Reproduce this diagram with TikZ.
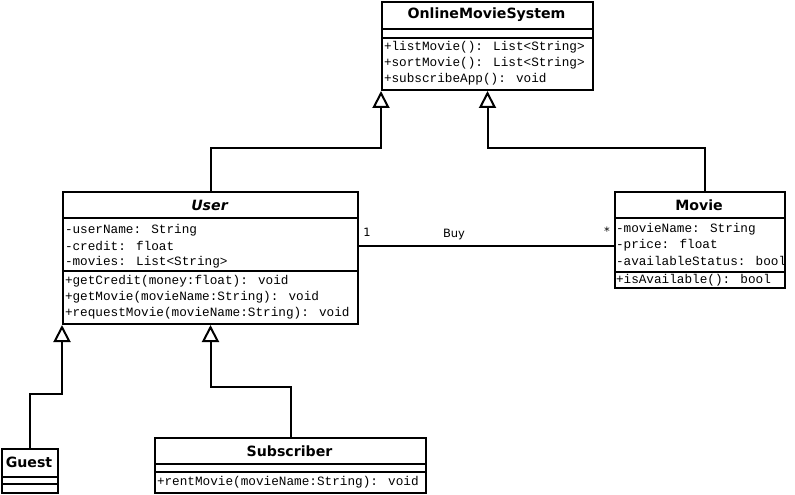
\documentclass[tikz,border=0pt]{standalone}
\usepackage{fontspec}
\setmainfont{DejaVu Sans}
\newfontfamily\monof{Liberation Mono}
\usetikzlibrary{arrows.meta}
\begin{document}
\begin{tikzpicture}[x=1bp,y=-1bp, line width=2bp,
  cls/.style={draw, fill=white, rectangle, inner sep=0pt, anchor=north west},
  sep/.style={line width=2bp},
  ttl/.style={font=\bfseries\fontsize{14.2}{14}\selectfont, inner sep=0pt},
  ttli/.style={font=\bfseries\itshape\fontsize{14.2}{14}\selectfont, inner sep=0pt},
  mem/.style={font=\monof\fontsize{12.75}{13}\selectfont, anchor=west, inner sep=0pt},
  lbl/.style={font=\fontsize{11.5}{12}\selectfont, inner sep=0pt},
  gen/.style={-{Triangle[open,length=17bp,width=17bp]}}]
\useasboundingbox (0,0) rectangle (795,495);

% OnlineMovieSystem
\node[cls, minimum width=211bp, minimum height=88bp] (oms) at (381,1) {};
\draw[sep] (oms.west |- 0,29) -- (oms.east |- 0,29);
\draw[sep] (oms.west |- 0,38) -- (oms.east |- 0,38);
\node[ttl] (omsT) at (486.5,15) {OnlineMovieSystem};
\node[mem] (omsM1) at (383,47) {+listMovie(): List<String>};
\node[mem] (omsM2) at (383,63) {+sortMovie(): List<String>};
\node[mem] (omsM3) at (383,79) {+subscribeApp(): void};

% User
\node[cls, minimum width=295bp, minimum height=132bp] (user) at (62,191) {};
\draw[sep] (user.west |- 0,218) -- (user.east |- 0,218);
\draw[sep] (user.west |- 0,271) -- (user.east |- 0,271);
\node[ttli] (userT) at (209.5,205) {User};
\node[mem] (userA1) at (64,230) {-userName: String};
\node[mem] (userA2) at (64,246) {-credit: float};
\node[mem] (userA3) at (64,262) {-movies: List<String>};
\node[mem] (userM1) at (64,281) {+getCredit(money:float): void};
\node[mem] (userM2) at (64,297) {+getMovie(movieName:String): void};
\node[mem] (userM3) at (64,313) {+requestMovie(movieName:String): void};

% Movie
\node[cls, minimum width=170bp, minimum height=96bp] (movie) at (614,191) {};
\draw[sep] (movie.west |- 0,218) -- (movie.east |- 0,218);
\draw[sep] (movie.west |- 0,272) -- (movie.east |- 0,272);
\node[ttl] (movieT) at (699,205) {Movie};
\node[mem] (movieA1) at (615,229) {-movieName: String};
\node[mem] (movieA2) at (615,245) {-price: float};
\node[mem] (movieA3) at (615,261) {-availableStatus: bool};
\node[mem] (movieM1) at (615,280) {+isAvailable(): bool};

% Guest
\node[cls, minimum width=56bp, minimum height=44bp] (guest) at (1,448) {};
\draw[sep] (guest.west |- 0,477) -- (guest.east |- 0,477);
\draw[sep] (guest.west |- 0,484) -- (guest.east |- 0,484);
\node[ttl] (guestT) at (29,462) {Guest};

% Subscriber
\node[cls, minimum width=271bp, minimum height=55bp] (sub) at (154,437) {};
\draw[sep] (sub.west |- 0,464) -- (sub.east |- 0,464);
\draw[sep] (sub.west |- 0,472) -- (sub.east |- 0,472);
\node[ttl] (subT) at (289.5,451) {Subscriber};
\node[mem] (subM1) at (156,482) {+rentMovie(movieName:String): void};

% generalizations
\draw[gen] (user.north) -- ++(0,-43) -| (oms.south west);
\draw[gen] ([xshift=5bp]movie.north) -- ++(0,-43) -| (oms.south);
\draw[gen] (guest.north) -- ++(0,-54) -| (user.south west);
\draw[gen] (sub.north) -- ++(0,-50) -| (user.south);

% association
\coordinate (buyy) at (0,246);
\draw (user.east |- buyy) -- (movie.west |- buyy);
\node[lbl] (m1) at (367,232) {1};
\node[lbl] (buy) at (454,235) {Buy};
\node[lbl] (m2) at (607,231) {*};
\end{tikzpicture}
\end{document}
